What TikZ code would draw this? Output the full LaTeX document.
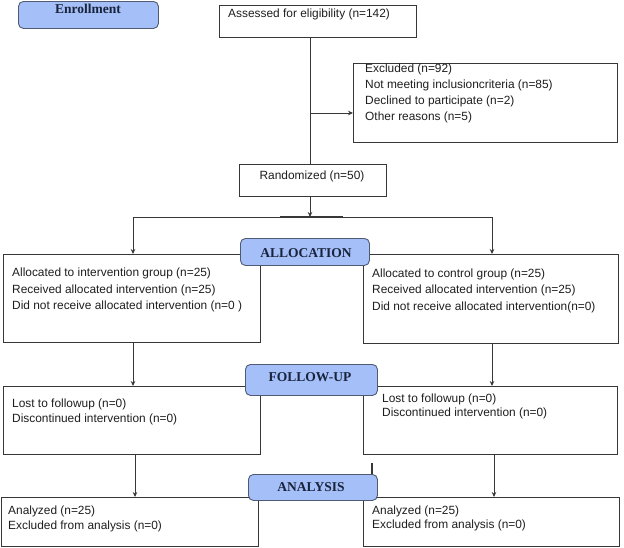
\documentclass[tikz,border=0pt]{standalone}
\usepackage{fontspec}
\setmainfont{Liberation Sans}
\newfontfamily\stagefont{Liberation Serif}
\usepackage{tikz}
\usetikzlibrary{shapes,arrows,arrows.meta}
\definecolor{stageblue}{RGB}{165,192,248}
\definecolor{stageedge}{RGB}{80,90,115}
\definecolor{edge}{RGB}{55,55,55}
\definecolor{ink}{RGB}{30,30,30}
\definecolor{stageink}{RGB}{25,35,60}
\tikzstyle{stage} = [rectangle, rounded corners=5pt, anchor=north west, inner sep=0pt, draw=stageedge, fill=stageblue, line width=0.9pt]
\tikzstyle{stagetext} = [anchor=base, inner sep=0pt, text=stageink, font=\stagefont\bfseries\fontsize{13.5}{15}\selectfont]
\tikzstyle{box} = [rectangle, anchor=north west, inner sep=0pt, draw=edge, line width=0.9pt]
\tikzstyle{txt} = [anchor=north west, inner sep=0pt, align=left, text=ink, font=\fontsize{11.9}{16}\selectfont]
\tikzstyle{link} = [draw=edge, line width=0.8pt]
\tikzstyle{arrow} = [link,-{Stealth[length=5pt,width=4.5pt]}]

\begin{document}
\begin{tikzpicture}[x=1pt,y=-1pt]
\useasboundingbox (0,0) rectangle (624,547);

% boxes
\node (assess) [box, minimum width=197pt, minimum height=32pt] at (219,5) {};
\node (excl) [box, minimum width=264pt, minimum height=79pt] at (353,63) {};
\node (rand) [box, minimum width=147pt, minimum height=32pt] at (239,164) {};
\node (allocL) [box, minimum width=257pt, minimum height=88pt] at (3,254) {};
\node (allocR) [box, minimum width=255pt, minimum height=89pt] at (363,254) {};
\node (fuL) [box, minimum width=257pt, minimum height=68pt] at (3,386) {};
\node (fuR) [box, minimum width=254pt, minimum height=68pt] at (363,386) {};
\node (anL) [box, minimum width=257pt, minimum height=49pt] at (0.5,497) {};
\node (anR) [box, minimum width=256pt, minimum height=49pt] at (363,497) {};

% box texts
\node (assessT) [txt] at (228,8.3) {Assessed for eligibility (n=142)};
\node (exclT) [txt] at (365,63.5) {Excluded (n=92)\\ Not meeting inclusioncriteria (n=85)\\ Declined to participate (n=2)\\ Other reasons (n=5)};
\node (randT) [txt, anchor=base] at (312,179) {Randomized (n=50)};
\node (allocLT) [txt, font=\fontsize{11.9}{16.5}\selectfont] at (12,268) {Allocated to intervention group (n=25)\\ Received allocated intervention (n=25)\\ Did not receive allocated intervention (n=0 )};
\node (allocRT) [txt, font=\fontsize{11.9}{16.5}\selectfont] at (372,268.5) {Allocated to control group (n=25)\\ Received allocated intervention (n=25)\\ Did not receive allocated intervention(n=0)};
\node (fuLT) [txt, font=\fontsize{11.9}{14.7}\selectfont] at (12,398.5) {Lost to followup (n=0)\\ Discontinued intervention (n=0)};
\node (fuRT) [txt, font=\fontsize{11.9}{14}\selectfont] at (382,393.5) {Lost to followup (n=0)\\ Discontinued intervention (n=0)};
\node (anLT) [txt, font=\fontsize{11.9}{15}\selectfont] at (8,505.5) {Analyzed (n=25)\\ Excluded from analysis (n=0)};
\node (anRT) [txt, font=\fontsize{11.9}{14}\selectfont] at (372,505.5) {Analyzed (n=25)\\ Excluded from analysis (n=0)};

% junctions
\coordinate (split) at (310,113);
\coordinate (bar) at (310,217);
\coordinate (barL) at (133,217);
\coordinate (barR) at (492,217);
\coordinate (downL) at (135,454);
\coordinate (downR) at (494,454);
\coordinate (tick) at (372,463);

% connectors
\draw [link] (assess.south -| split) -- (rand.north -| split);
\draw [arrow] (split) -- (excl.west |- split);
\draw [arrow] (rand.south -| bar) -- (bar);
\draw [link] (barL) -- (barR);
\draw [link, line width=1.3pt] (280,217) -- (343,217);
\draw [arrow] (barL) -- (allocL.north -| barL);
\draw [arrow] (barR) -- (allocR.north -| barR);
\draw [arrow] (allocL.south -| barL) -- (fuL.north -| barL);
\draw [arrow] (allocR.south -| barR) -- (fuR.north -| barR);
\draw [arrow] (downL) -- (anL.north -| downL);
\draw [arrow] (downR) -- (anR.north -| downR);
\draw [link, line width=1.3pt] (tick) -- ++(0,11);

% stage tags
\node (enroll) [stage, minimum width=140pt, minimum height=27pt] at (18,1) {};
\node (enrollT) [stagetext] at (88,13) {Enrollment};
\node (allocTag) [stage, minimum width=129pt, minimum height=27pt] at (240,238) {};
\node (allocTagT) [stagetext] at (306,257) {ALLOCATION};
\node (fuTag) [stage, minimum width=132pt, minimum height=31pt] at (245,364) {};
\node (fuTagT) [stagetext] at (310,381) {FOLLOW-UP};
\node (anTag) [stage, minimum width=129pt, minimum height=26pt] at (248,474) {};
\node (anTagT) [stagetext] at (311,491) {ANALYSIS};
\end{tikzpicture}
\end{document}
